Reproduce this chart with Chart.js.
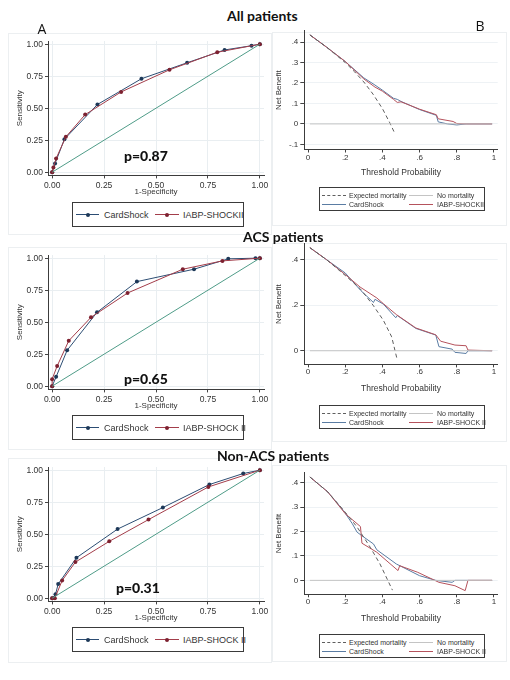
<!DOCTYPE html>
<html>
<head>
<meta charset="utf-8">
<script src="https://cdn.jsdelivr.net/npm/chart.js@4.4.1/dist/chart.umd.min.js"></script>
<style>
body { margin:0; width:510px; height:680px; background:#fff; position:relative; overflow:hidden; font-family:"Liberation Sans", Arial, sans-serif; }
canvas { position:absolute; z-index:1; }
.box { position:absolute; border:1px solid #eceff1; }
.title { position:absolute; z-index:3; font-family:Lato, "Open Sans", sans-serif; font-weight:bold; font-size:14px; color:#111; white-space:nowrap; transform:translateY(-50%); }
.letter { position:absolute; z-index:3; font-family:"Open Sans", sans-serif; font-size:14px; color:#111; transform:translate(-50%,-50%); }
.pval { position:absolute; z-index:3; font-family:Lato, "Open Sans", sans-serif; font-weight:900; font-size:14px; color:#111; transform:translateY(-50%); }
.leg { position:absolute; z-index:3; border:1px solid #3a3a3a; background:#fff; color:#333; font-family:"Liberation Sans", Arial, sans-serif; }
.leg span { position:absolute; white-space:nowrap; transform:translateY(-50%); }
.leg i { position:absolute; height:0; }
.leg b { position:absolute; width:4px; height:4px; border-radius:50%; transform:translate(-50%,-50%); }
</style>
</head>
<body>
<div class="box" style="left:8px;top:33px;width:262px;height:200px"></div>
<div class="box" style="left:272px;top:32px;width:233px;height:192px"></div>
<div class="box" style="left:8px;top:247px;width:262px;height:201px"></div>
<div class="box" style="left:272px;top:243px;width:233px;height:197px"></div>
<div class="box" style="left:8px;top:458px;width:262px;height:203px"></div>
<div class="box" style="left:272px;top:465px;width:233px;height:195px"></div>

<div class="title" style="left:227px;top:15px">All patients</div>
<div class="title" style="left:243px;top:236px">ACS patients</div>
<div class="title" style="left:217px;top:455px">Non-ACS patients</div>
<div class="letter" style="left:42px;top:28px">A</div>
<div class="letter" style="left:480px;top:25px">B</div>
<div class="pval" style="left:124px;top:155px">p=0.87</div>
<div class="pval" style="left:124px;top:378px">p=0.65</div>
<div class="pval" style="left:116px;top:587px">p=0.31</div>

<script>
// ROC tick values / labels
const rocTicks = [0, 0.25, 0.5, 0.75, 1];
const rocTickLabels = ['0.00', '0.25', '0.50', '0.75', '1.00'];

// Decision curve ticks
const dcaXTicks = [0, 0.2, 0.4, 0.6, 0.8, 1];
const dcaXLabels = ['0', '.2', '.4', '.6', '.8', '1'];
const dcaYTicksAll = [-0.1, 0, 0.1, 0.2, 0.3, 0.4];
const dcaYLabelsAll = ['-.1', '0', '.1', '.2', '.3', '.4'];
const dcaYTicksAcs = [0, 0.2, 0.4];
const dcaYLabelsAcs = ['0', '.2', '.4'];
const dcaYTicksNon = [0, 0.1, 0.2, 0.3, 0.4];
const dcaYLabelsNon = ['0', '.1', '.2', '.3', '.4'];

// ROC - All patients
const allCardFpr = [0, 0.014, 0.059, 0.218, 0.43, 0.65, 0.83, 0.96, 1];
const allCardTpr = [0, 0.068, 0.258, 0.529, 0.73, 0.855, 0.955, 0.988, 1];
const allIabpFpr = [0, 0.006, 0.019, 0.066, 0.159, 0.332, 0.565, 0.795, 1];
const allIabpTpr = [0, 0.037, 0.107, 0.276, 0.45, 0.627, 0.80, 0.937, 1];

// ROC - ACS patients
const acsCardFpr = [0, 0.019, 0.072, 0.216, 0.408, 0.683, 0.848, 0.979, 1];
const acsCardTpr = [0, 0.073, 0.28, 0.577, 0.817, 0.914, 0.995, 1, 1];
const acsIabpFpr = [0, 0, 0.024, 0.08, 0.187, 0.363, 0.629, 0.82, 1];
const acsIabpTpr = [0, 0.055, 0.157, 0.355, 0.538, 0.728, 0.914, 0.979, 1];

// ROC - Non-ACS patients
const nonCardFpr = [0, 0.016, 0.029, 0.117, 0.315, 0.533, 0.757, 0.92, 1];
const nonCardTpr = [0, 0.03, 0.11, 0.316, 0.54, 0.708, 0.888, 0.974, 1];
const nonIabpFpr = [0, 0.013, 0.048, 0.112, 0.275, 0.464, 0.752, 1];
const nonIabpTpr = [0, 0, 0.138, 0.282, 0.444, 0.614, 0.869, 1];

const refLine = [0, 1];

// Decision curves - All patients
const allExpT  = [0.01, 0.1, 0.2, 0.25, 0.3, 0.35, 0.4, 0.44, 0.466];
const allExpNb = [0.435, 0.375, 0.30, 0.255, 0.205, 0.145, 0.075, 0.005, -0.045];
const allCardT  = [0.01, 0.1, 0.2, 0.3, 0.36, 0.4, 0.46, 0.48, 0.5, 0.6, 0.69, 0.70, 0.75, 0.8, 0.85, 0.99];
const allCardNb = [0.435, 0.375, 0.305, 0.225, 0.19, 0.165, 0.125, 0.12, 0.11, 0.07, 0.042, 0.01, 0.0, -0.005, 0.0, 0.0];
const allIabpT  = [0.01, 0.1, 0.2, 0.3, 0.36, 0.4, 0.46, 0.48, 0.5, 0.6, 0.69, 0.70, 0.78, 0.8, 0.85, 0.99];
const allIabpNb = [0.435, 0.375, 0.305, 0.22, 0.18, 0.16, 0.12, 0.105, 0.108, 0.072, 0.045, 0.025, 0.012, 0.002, 0.0, 0.0];

// Decision curves - ACS patients
const acsExpT  = [0.01, 0.1, 0.2, 0.28, 0.35, 0.405, 0.45, 0.48];
const acsExpNb = [0.453, 0.40, 0.331, 0.273, 0.2, 0.134, 0.061, -0.041];
const acsCardT  = [0.01, 0.1, 0.2, 0.282, 0.352, 0.36, 0.405, 0.472, 0.48, 0.58, 0.687, 0.704, 0.775, 0.79, 0.85, 0.86, 0.99];
const acsCardNb = [0.453, 0.40, 0.342, 0.266, 0.212, 0.226, 0.205, 0.145, 0.155, 0.098, 0.069, 0.018, 0.007, -0.007, -0.012, 0.0, 0.0];
const acsIabpT  = [0.01, 0.1, 0.2, 0.28, 0.37, 0.405, 0.475, 0.58, 0.687, 0.713, 0.79, 0.85, 0.86, 0.99];
const acsIabpNb = [0.453, 0.40, 0.335, 0.28, 0.232, 0.207, 0.159, 0.10, 0.07, 0.042, 0.025, 0.022, 0.003, 0.0];

// Decision curves - Non-ACS patients
const nonExpT  = [0.01, 0.106, 0.2, 0.264, 0.334, 0.387, 0.454];
const nonExpNb = [0.423, 0.362, 0.279, 0.218, 0.136, 0.067, -0.04];
const nonCardT  = [0.01, 0.106, 0.19, 0.238, 0.264, 0.3, 0.352, 0.37, 0.475, 0.6, 0.687, 0.775, 0.79, 0.99];
const nonCardNb = [0.423, 0.362, 0.286, 0.232, 0.197, 0.177, 0.149, 0.125, 0.067, 0.019, 0.0, -0.008, 0.0, 0.0];
const nonIabpT  = [0.01, 0.106, 0.2, 0.282, 0.29, 0.37, 0.484, 0.493, 0.59, 0.704, 0.79, 0.845, 0.86, 0.99];
const nonIabpNb = [0.423, 0.362, 0.273, 0.22, 0.152, 0.115, 0.04, 0.06, 0.033, -0.008, -0.022, -0.042, 0.0, 0.0];

const noneT  = [0.01, 0.99];
const noneNb = [0, 0];

const BLUE = '#2c4d73', BLUE_DOT = '#1d3858';
const RED = '#a33d4a', RED_DOT = '#7d2130';
const DCA_BLUE = '#5a7ca3', DCA_RED = '#b5525c';

const pts = (xs, ys) => xs.map((x, i) => ({ x: x, y: ys[i] }));

function addCanvas(left, top, w, h) {
    const c = document.createElement('canvas');
    c.width = w; c.height = h;
    c.style.left = left + 'px'; c.style.top = top + 'px';
    c.style.width = w + 'px'; c.style.height = h + 'px';
    document.body.appendChild(c);
    return c;
}

function axis(opts) {
    return {
        type: 'linear',
        min: opts.min, max: opts.max,
        afterBuildTicks: s => { s.ticks = opts.ticks.map(v => ({ value: v })); },
        afterFit: s => { if (opts.w) s.width = opts.w; if (opts.h) s.height = opts.h; },
        grid: { display: true, color: opts.grid, tickColor: '#444', tickLength: opts.tickLen, drawOnChartArea: opts.grid !== null },
        border: { display: true, color: '#3c3c3c', width: 1 },
        ticks: {
            autoSkip: false, maxRotation: 0, padding: opts.pad,
            color: '#333', font: { family: '"Liberation Sans", Arial', size: opts.fs },
            callback: (v, i) => opts.labels[i]
        },
        title: { display: true, text: opts.title, color: '#333', padding: 0, font: { family: '"Liberation Sans", Arial', size: opts.tfs } }
    };
}

function rocChart(areaTop, cardX, cardY, iabpX, iabpY) {
    const c = addCanvas(0, areaTop - 8, 280, 168);
    new Chart(c.getContext('2d'), {
        type: 'line',
        data: {
            datasets: [
                { data: pts(refLine, refLine), borderColor: '#4f9c88', borderWidth: 1, pointRadius: 0 },
                { data: pts(iabpX, iabpY), borderColor: RED, borderWidth: 1, pointRadius: 2, pointBorderWidth: 0, pointBackgroundColor: RED_DOT },
                { data: pts(cardX, cardY), borderColor: BLUE, borderWidth: 1, pointRadius: 2, pointBorderWidth: 0, pointBackgroundColor: BLUE_DOT }
            ]
        },
        options: {
            responsive: false, animation: false,
            layout: { autoPadding: false, padding: { left: 15, right: 16, top: 8, bottom: 4 } },
            plugins: { legend: { display: false }, tooltip: { enabled: false } },
            scales: {
                x: axis({ min: -0.02, max: 1.02, ticks: rocTicks, labels: rocTickLabels, h: 21.6, grid: '#e9eef1', tickLen: 3, pad: 2, fs: 8.5, title: '1-Specificity', tfs: 8 }),
                y: axis({ min: -0.025, max: 1.025, ticks: rocTicks, labels: rocTickLabels, w: 33, grid: '#e9eef1', tickLen: 3, pad: 2, fs: 8.5, title: 'Sensitivity', tfs: 8 })
            }
        }
    });
}

function dcaChart(areaTop, areaBottom, xh, yMin, yMax, yTicks, yLabels, expT, expNb, cardT, cardNb, iabpT, iabpNb) {
    const c = addCanvas(272, areaTop - 6, 236, 6 + (areaBottom - areaTop) + xh + 3);
    new Chart(c.getContext('2d'), {
        type: 'line',
        data: {
            datasets: [
                { data: pts(noneT, noneNb), borderColor: '#c4c4c4', borderWidth: 1, pointRadius: 0 },
                { data: pts(expT, expNb), borderColor: '#5e5e5e', borderWidth: 1, borderDash: [4, 3], pointRadius: 0 },
                { data: pts(iabpT, iabpNb), borderColor: DCA_RED, borderWidth: 1, pointRadius: 0 },
                { data: pts(cardT, cardNb), borderColor: DCA_BLUE, borderWidth: 1, pointRadius: 0 }
            ]
        },
        options: {
            responsive: false, animation: false,
            layout: { autoPadding: false, padding: { left: 2.2, right: 10.3, top: 6, bottom: 3 } },
            plugins: { legend: { display: false }, tooltip: { enabled: false } },
            scales: {
                x: axis({ min: -0.02, max: 1.02, ticks: dcaXTicks, labels: dcaXLabels, h: xh, grid: null, tickLen: 3, pad: 0, fs: 8, title: 'Threshold Probability', tfs: 8.5 }),
                y: axis({ min: yMin, max: yMax, ticks: yTicks, labels: yLabels, w: 30.1, grid: '#eef2f5', tickLen: 4, pad: 2, fs: 8, title: 'Net Benefit', tfs: 8 })
            }
        }
    });
}

function rocLegend(top, name2) {
    const d = document.createElement('div');
    d.className = 'leg';
    d.style.cssText = 'left:72px;top:' + top + 'px;width:170px;height:23px;font-size:9px;';
    d.innerHTML =
        '<i style="left:3px;top:11px;width:23px;border-top:1px solid ' + BLUE + '"></i><b style="left:15px;top:11.5px;background:' + BLUE_DOT + '"></b>' +
        '<span style="left:31px;top:12px">CardShock</span>' +
        '<i style="left:82px;top:11px;width:24px;border-top:1px solid ' + RED + '"></i><b style="left:94px;top:11.5px;background:' + RED_DOT + '"></b>' +
        '<span style="left:110px;top:12px">' + name2 + '</span>';
    document.body.appendChild(d);
}

function dcaLegend(top, name2) {
    const d = document.createElement('div');
    d.className = 'leg';
    d.style.cssText = 'left:319px;top:' + top + 'px;width:164px;height:22px;font-size:7px;';
    d.innerHTML =
        '<i style="left:2px;top:6.5px;width:24px;border-top:1px dashed #5e5e5e"></i><span style="left:29px;top:7px">Expected mortality</span>' +
        '<i style="left:89px;top:6.5px;width:24px;border-top:1px solid #c4c4c4"></i><span style="left:117px;top:7px">No mortality</span>' +
        '<i style="left:2px;top:15.5px;width:24px;border-top:1px solid ' + DCA_BLUE + '"></i><span style="left:29px;top:16px">CardShock</span>' +
        '<i style="left:89px;top:15.5px;width:24px;border-top:1px solid ' + DCA_RED + '"></i><span style="left:117px;top:16px">' + name2 + '</span>';
    document.body.appendChild(d);
}

rocChart(40.8, allCardFpr, allCardTpr, allIabpFpr, allIabpTpr);
rocChart(254.8, acsCardFpr, acsCardTpr, acsIabpFpr, acsIabpTpr);
rocChart(466.8, nonCardFpr, nonCardTpr, nonIabpFpr, nonIabpTpr);

dcaChart(29.6, 149.9, 28.5, -0.125, 0.455, dcaYTicksAll, dcaYLabelsAll, allExpT, allExpNb, allCardT, allCardNb, allIabpT, allIabpNb);
dcaChart(242.9, 364.8, 29.6, -0.06, 0.47, dcaYTicksAcs, dcaYLabelsAcs, acsExpT, acsExpNb, acsCardT, acsCardNb, acsIabpT, acsIabpNb);
dcaChart(472.2, 594.7, 29.7, -0.057, 0.44, dcaYTicksNon, dcaYLabelsNon, nonExpT, nonExpNb, nonCardT, nonCardNb, nonIabpT, nonIabpNb);

rocLegend(202, 'IABP-SHOCKII');
rocLegend(415, 'IABP-SHOCK II');
rocLegend(627, 'IABP-SHOCK II');
dcaLegend(187, 'IABP-SHOCKII');
dcaLegend(405, 'IABP-SHOCK II');
dcaLegend(634, 'IABP-SHOCK II');
</script>
</body>
</html>
